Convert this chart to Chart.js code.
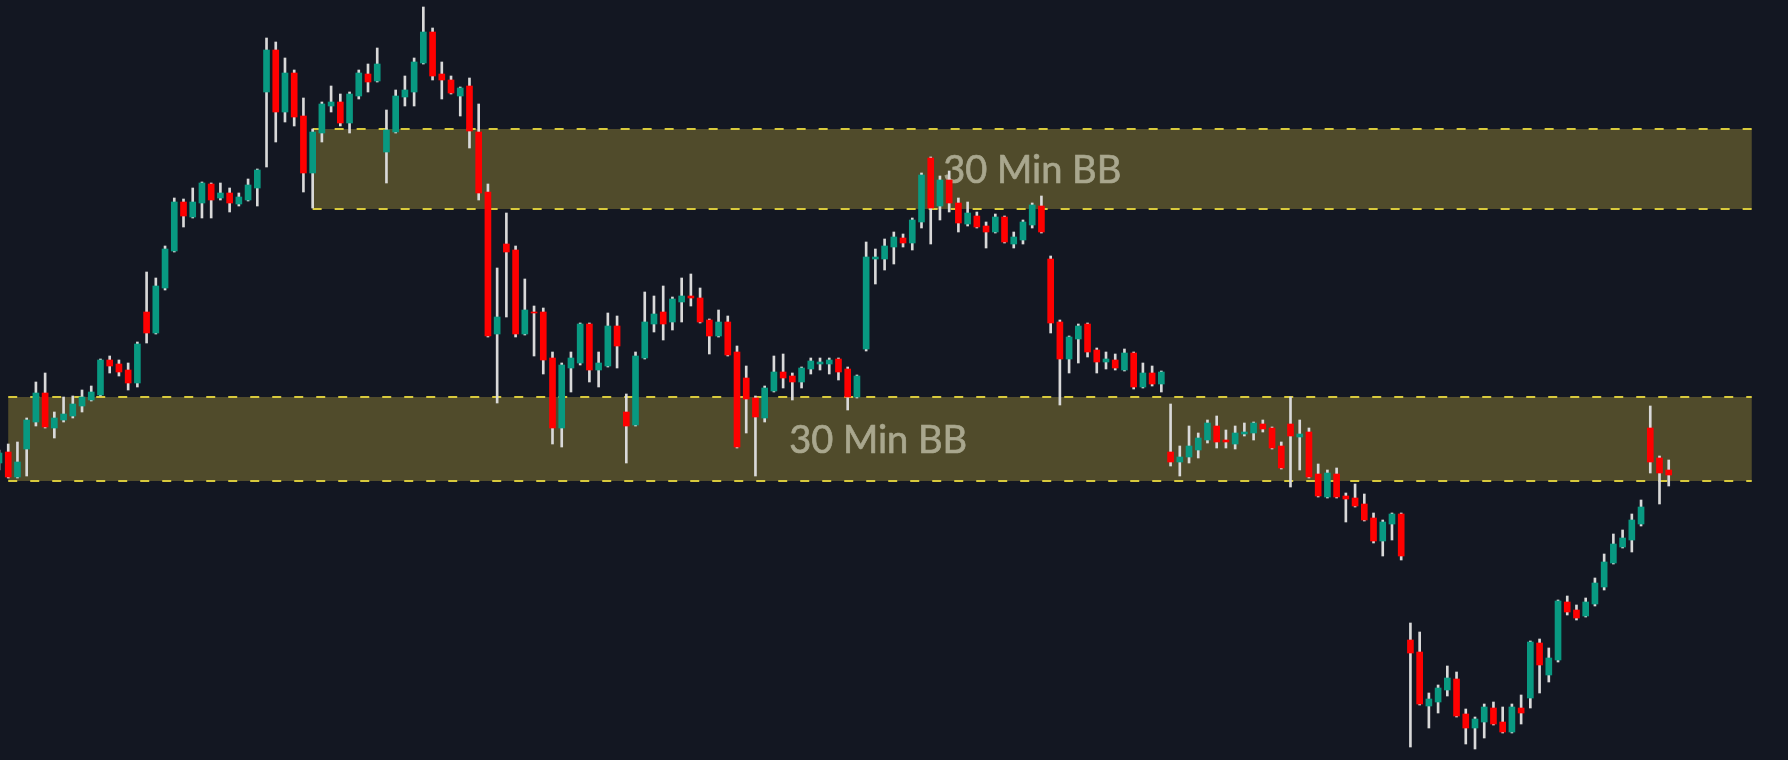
<!DOCTYPE html>
<html>
<head>
<meta charset="utf-8">
<title>30 Min BB</title>
<script src="https://cdn.jsdelivr.net/npm/chart.js@4.4.1/dist/chart.umd.min.js"></script>
<style>
  html, body { margin: 0; padding: 0; background: #131722; overflow: hidden; }
  canvas { display: block; }
</style>
</head>
<body>
<canvas id="chart" width="1788" height="760"></canvas>
<script>
// candles (price units, no axis shown)
const opens = [
  297, 308, 283, 311, 338, 367, 332, 340, 344, 354, 360, 365, 400, 396, 390, 377,
  448, 427, 472, 509, 558, 543, 557, 576, 562, 567, 556, 560, 572, 668, 710, 648,
  687, 644, 587, 627, 654, 658, 637, 664, 686, 679, 608, 628, 663, 668, 697, 728,
  686, 680, 664, 674, 628, 568, 426, 516, 510, 426, 448, 448, 402, 332, 392, 397,
  436, 390, 394, 434, 348, 335, 402, 436, 448, 438, 458, 464, 462, 440, 424, 438,
  408, 382, 362, 342, 369, 388, 384, 378, 391, 396, 396, 401, 391, 363, 411, 501,
  501, 513, 522, 517, 538, 602, 554, 580, 557, 536, 544, 534, 528, 543, 516, 520,
  535, 554, 501, 438, 401, 421, 436, 410, 398, 400, 390, 407, 373, 387, 376, 308,
  298, 303, 310, 320, 334, 320, 316, 326, 327, 336, 332, 314, 336, 323, 328, 286,
  263, 286, 264, 262, 256, 242, 219, 236, 246, 120, 108, 54, 58, 70, 81, 46,
  32, 38, 52, 38, 28, 52, 62, 117, 85, 100, 158, 150, 144, 156, 173, 197,
  213, 220, 236, 332, 302, 290
];
const highs = [
  310, 316, 318, 342, 378, 387, 348, 363, 364, 370, 374, 401, 404, 400, 397, 418,
  488, 482, 514, 562, 561, 572, 578, 577, 577, 572, 567, 581, 591, 722, 718, 702,
  690, 662, 631, 658, 674, 666, 668, 690, 696, 712, 650, 670, 684, 702, 753, 732,
  698, 684, 673, 682, 656, 576, 492, 547, 514, 481, 454, 452, 408, 397, 408, 437,
  437, 408, 447, 444, 366, 408, 468, 464, 474, 463, 482, 486, 472, 441, 450, 444,
  414, 394, 364, 374, 404, 406, 387, 393, 402, 402, 402, 402, 393, 385, 518, 511,
  521, 528, 526, 542, 587, 603, 584, 589, 562, 558, 548, 538, 546, 544, 528, 540,
  557, 564, 504, 440, 424, 436, 437, 412, 408, 406, 411, 408, 397, 394, 389, 356,
  314, 334, 327, 340, 344, 330, 334, 337, 338, 340, 333, 318, 363, 340, 332, 296,
  290, 292, 267, 276, 266, 247, 240, 247, 247, 137, 128, 67, 75, 94, 88, 51,
  43, 56, 58, 53, 56, 65, 119, 121, 112, 160, 164, 155, 162, 182, 206, 226,
  230, 246, 260, 354, 304, 300
];
const lows = [
  290, 282, 282, 284, 334, 332, 322, 338, 342, 348, 359, 364, 387, 384, 370, 373,
  417, 426, 470, 508, 533, 542, 542, 542, 560, 548, 554, 559, 554, 593, 618, 638,
  634, 568, 552, 618, 648, 634, 627, 661, 668, 678, 577, 627, 654, 654, 696, 680,
  661, 666, 644, 612, 560, 423, 357, 443, 423, 425, 404, 386, 316, 313, 368, 395,
  378, 373, 393, 392, 297, 334, 401, 428, 420, 430, 438, 454, 437, 406, 423, 404,
  312, 327, 284, 338, 368, 372, 360, 372, 386, 390, 386, 380, 350, 362, 409, 476,
  490, 496, 513, 510, 532, 516, 540, 548, 528, 534, 532, 512, 527, 517, 512, 516,
  532, 527, 427, 355, 387, 397, 403, 387, 391, 390, 389, 371, 372, 374, 368, 294,
  284, 297, 302, 317, 312, 312, 311, 324, 320, 328, 311, 291, 273, 290, 282, 263,
  262, 262, 238, 253, 239, 217, 204, 220, 200, 13, 55, 32, 47, 64, 43, 16,
  11, 22, 35, 27, 27, 36, 52, 67, 78, 98, 145, 140, 143, 154, 170, 196,
  212, 208, 234, 287, 256, 274
];
const closes = [
  307, 283, 298, 340, 367, 333, 342, 346, 356, 363, 368, 400, 394, 388, 377, 416,
  427, 474, 511, 558, 544, 558, 577, 560, 567, 557, 563, 575, 590, 710, 648, 687,
  643, 587, 628, 656, 658, 637, 666, 687, 678, 696, 630, 664, 670, 698, 728, 684,
  680, 667, 672, 629, 567, 424, 443, 508, 426, 450, 447, 400, 332, 395, 402, 436,
  390, 397, 434, 414, 334, 404, 438, 446, 436, 461, 464, 462, 438, 424, 438, 405,
  313, 361, 343, 372, 388, 382, 378, 392, 399, 398, 400, 388, 363, 384, 503, 503,
  514, 523, 517, 540, 585, 552, 580, 557, 537, 547, 533, 528, 543, 518, 523, 538,
  555, 528, 437, 401, 423, 434, 408, 398, 401, 392, 407, 373, 387, 376, 388, 298,
  303, 314, 322, 337, 318, 318, 327, 328, 337, 331, 312, 292, 324, 326, 283, 264,
  287, 263, 261, 254, 240, 219, 238, 246, 204, 107, 56, 61, 72, 82, 44, 32,
  41, 53, 36, 28, 53, 47, 118, 95, 102, 159, 148, 142, 158, 177, 198, 216,
  222, 240, 253, 298, 287, 285
];

// "30 Min BB" zones: first/last candle index, price band, text
const zoneStarts = [34, 1];
const zoneEnds = [190, 190];
const zoneLows = [551, 279];
const zoneHighs = [631, 363];
const zoneLabels = ['30 Min BB', '30 Min BB'];

const upColor = '#089981';
const downColor = '#ff0000';

const bodies = [];
const wicks = [];
const bodyColors = [];
for (let i = 0; i < opens.length; i++) {
    bodies.push({ x: i, y: [opens[i], closes[i]] });
    wicks.push({ x: i, y: [lows[i], highs[i]] });
    bodyColors.push(closes[i] >= opens[i] ? upColor : downColor);
}

// draw the zone boxes behind the candles
const zonePlugin = {
    id: 'zones',
    beforeDatasetsDraw(chart, args, opts) {
        const ctx = chart.ctx;
        const x = chart.scales.x;
        const y = chart.scales.y;
        for (let i = 0; i < zoneLows.length; i++) {
            const left = x.getPixelForValue(zoneStarts[i]);
            const right = x.getPixelForValue(zoneEnds[i]);
            const top = y.getPixelForValue(zoneHighs[i]);
            const bottom = y.getPixelForValue(zoneLows[i]);
            ctx.save();
            ctx.fillStyle = opts.fill;
            ctx.fillRect(left, top, right - left, bottom - top);
            ctx.strokeStyle = opts.line;
            ctx.lineWidth = 2;
            ctx.setLineDash([9, 13]);
            ctx.beginPath();
            ctx.moveTo(left, top);
            ctx.lineTo(right, top);
            ctx.moveTo(left, bottom);
            ctx.lineTo(right, bottom);
            ctx.stroke();
            ctx.setLineDash([]);
            // label, a touch heavier than plain Lato
            ctx.font = opts.font;
            ctx.fillStyle = opts.text;
            ctx.strokeStyle = opts.text;
            ctx.lineWidth = 0.7;
            ctx.textAlign = 'center';
            ctx.textBaseline = 'middle';
            const tx = x.getPixelForValue(opts.labelAt[i]);
            const ty = (top + bottom) / 2 + 2;
            ctx.fillText(zoneLabels[i], tx, ty);
            ctx.strokeText(zoneLabels[i], tx, ty);
            ctx.restore();
        }
    }
};

const ctx = document.getElementById('chart').getContext('2d');
new Chart(ctx, {
    type: 'bar',
    data: {
        datasets: [
            {
                label: 'body',
                data: bodies,
                backgroundColor: bodyColors,
                barThickness: 6,
                minBarLength: 1,
                grouped: false,
                order: 0
            },
            {
                label: 'wick',
                data: wicks,
                backgroundColor: '#d9d9d9',
                barThickness: 2,
                grouped: false,
                order: 1
            }
        ]
    },
    options: {
        responsive: false,
        animation: false,
        devicePixelRatio: 1,
        layout: { padding: 0 },
        scales: {
            x: {
                type: 'linear',
                display: false,
                offset: false,
                min: 1 / 9.225,
                max: 1789 / 9.225
            },
            y: {
                display: false,
                min: 0,
                max: 760
            }
        },
        plugins: {
            legend: { display: false },
            tooltip: { enabled: false },
            zones: {
                fill: '#504b2b',
                line: '#d8c93c',
                text: '#a9a78e',
                font: '38px Lato',
                labelAt: [112, 95.3]
            }
        }
    },
    plugins: [zonePlugin]
});
</script>
</body>
</html>
